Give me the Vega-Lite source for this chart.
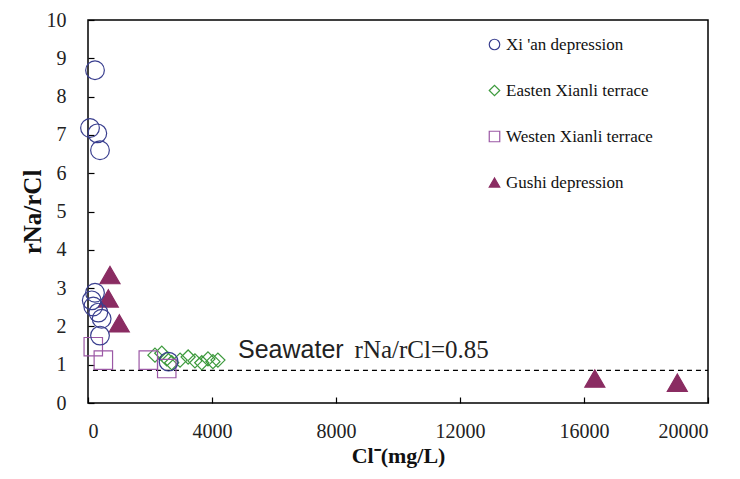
{
  "$schema": "https://vega.github.io/schema/vega-lite/v6.json",
  "width": 620,
  "height": 383,
  "autosize": {"type": "none"},
  "padding": {"left": 88, "top": 20, "right": 32, "bottom": 76},
  "background": "white",
  "config": {
    "view": {"stroke": "black", "strokeWidth": 1.5}
  },
  "datasets": {
    "points": [
      {"cl": 226, "ratio": 8.69, "group": "Xi 'an depression"},
      {"cl": 65, "ratio": 7.18, "group": "Xi 'an depression"},
      {"cl": 300, "ratio": 7.04, "group": "Xi 'an depression"},
      {"cl": 387, "ratio": 6.6, "group": "Xi 'an depression"},
      {"cl": 226, "ratio": 2.88, "group": "Xi 'an depression"},
      {"cl": 120, "ratio": 2.68, "group": "Xi 'an depression"},
      {"cl": 170, "ratio": 2.52, "group": "Xi 'an depression"},
      {"cl": 333, "ratio": 2.36, "group": "Xi 'an depression"},
      {"cl": 440, "ratio": 2.2, "group": "Xi 'an depression"},
      {"cl": 387, "ratio": 1.76, "group": "Xi 'an depression"},
      {"cl": 2600, "ratio": 1.08, "group": "Xi 'an depression"},
      {"cl": 2160, "ratio": 1.25, "group": "Easten Xianli terrace"},
      {"cl": 2380, "ratio": 1.3, "group": "Easten Xianli terrace"},
      {"cl": 2540, "ratio": 1.15, "group": "Easten Xianli terrace"},
      {"cl": 2700, "ratio": 1.05, "group": "Easten Xianli terrace"},
      {"cl": 2970, "ratio": 1.12, "group": "Easten Xianli terrace"},
      {"cl": 3230, "ratio": 1.2, "group": "Easten Xianli terrace"},
      {"cl": 3450, "ratio": 1.1, "group": "Easten Xianli terrace"},
      {"cl": 3670, "ratio": 1.05, "group": "Easten Xianli terrace"},
      {"cl": 3870, "ratio": 1.15, "group": "Easten Xianli terrace"},
      {"cl": 4030, "ratio": 1.08, "group": "Easten Xianli terrace"},
      {"cl": 4190, "ratio": 1.12, "group": "Easten Xianli terrace"},
      {"cl": 170, "ratio": 1.47, "group": "Westen Xianli terrace"},
      {"cl": 495, "ratio": 1.12, "group": "Westen Xianli terrace"},
      {"cl": 1945, "ratio": 1.12, "group": "Westen Xianli terrace"},
      {"cl": 2540, "ratio": 0.9, "group": "Westen Xianli terrace"},
      {"cl": 710, "ratio": 3.34, "group": "Gushi depression"},
      {"cl": 655, "ratio": 2.73, "group": "Gushi depression"},
      {"cl": 1010, "ratio": 2.08, "group": "Gushi depression"},
      {"cl": 16350, "ratio": 0.64, "group": "Gushi depression"},
      {"cl": 19010, "ratio": 0.53, "group": "Gushi depression"}
    ],
    "seawater": [{"cl": 160, "cl2": 20000, "ratio": 0.85}],
    "label1": [{"cl": 4840, "ratio": 1.17, "text": "Seawater"}],
    "label2": [{"cl": 8600, "ratio": 1.17, "text": "rNa/rCl=0.85"}]
  },
  "encoding": {
    "x": {"field": "cl", "type": "quantitative", "scale": {"domain": [0, 20000], "nice": false},
          "axis": {"values": [0, 4000, 8000, 12000, 16000, 20000], "format": "d", "grid": false, "domain": false, "offset": -6,
                   "ticks": true, "tickSize": 6, "tickWidth": 1.2, "tickColor": "black", "labelOverlap": false,
                   "labelFont": "Liberation Serif", "labelFontSize": 20, "labelColor": "#222", "labelPadding": 18,
                   "title": "Cl⁻(mg/L)", "titleFont": "Liberation Serif", "titleFontWeight": "bold", "titleColor": "#111", "titleFontSize": 22, "titlePadding": 4}},
    "y": {"field": "ratio", "type": "quantitative", "scale": {"domain": [0, 10], "nice": false},
          "axis": {"values": [0, 1, 2, 3, 4, 5, 6, 7, 8, 9, 10], "grid": false, "domain": false, "offset": -6,
                   "ticks": true, "tickSize": 6, "tickWidth": 1.2, "tickColor": "black", "labelOverlap": false,
                   "labelFont": "Liberation Serif", "labelFontSize": 20, "labelColor": "#222", "labelPadding": 22,
                   "title": "rNa/rCl", "titleFont": "Liberation Serif", "titleFontWeight": "bold", "titleColor": "#111", "titleFontSize": 25, "titlePadding": 1}}
  },
  "layer": [
    {
      "data": {"name": "seawater"},
      "mark": {"type": "rule", "color": "black", "strokeWidth": 1.3, "strokeDash": [5, 4]},
      "encoding": {"x2": {"field": "cl2"}}
    },
    {
      "data": {"name": "points"},
      "transform": [{"filter": "datum.group === 'Easten Xianli terrace'"}],
      "mark": {"type": "point", "strokeWidth": 1.2, "size": 200, "opacity": 1},
      "encoding": {
        "shape": {"field": "group", "type": "nominal",
          "scale": {"domain": ["Xi 'an depression", "Easten Xianli terrace", "Westen Xianli terrace", "Gushi depression"],
                    "range": ["circle", "diamond", "square", "triangle-up"]},
          "legend": {"title": null, "orient": "none", "legendX": 398, "legendY": 16,
                     "labelFont": "Liberation Serif", "labelFontSize": 17, "labelColor": "#111",
                     "symbolSize": 110, "symbolStrokeWidth": 1.2, "symbolOpacity": 1, "rowPadding": 28, "labelOffset": 3}},
        "stroke": {"field": "group", "type": "nominal",
          "scale": {"domain": ["Xi 'an depression", "Easten Xianli terrace", "Westen Xianli terrace", "Gushi depression"],
                    "range": ["#3a3f8f", "#3d9a3d", "#9b58a5", "#8a2c62"]}},
        "fill": {"field": "group", "type": "nominal",
          "scale": {"domain": ["Xi 'an depression", "Easten Xianli terrace", "Westen Xianli terrace", "Gushi depression"],
                    "range": ["rgba(255,255,255,0)", "rgba(255,255,255,0)", "rgba(255,255,255,0)", "#8a2c62"]}}
      }
    },
    {
      "data": {"name": "points"},
      "transform": [{"filter": "datum.group === 'Westen Xianli terrace'"}],
      "mark": {"type": "point", "strokeWidth": 1.2, "size": 340, "opacity": 1},
      "encoding": {
        "shape": {"field": "group", "type": "nominal"},
        "stroke": {"field": "group", "type": "nominal"},
        "fill": {"field": "group", "type": "nominal"}
      }
    },
    {
      "data": {"name": "points"},
      "transform": [{"filter": "datum.group === 'Gushi depression'"}],
      "mark": {"type": "point", "strokeWidth": 1.2, "size": 400, "opacity": 1},
      "encoding": {
        "shape": {"field": "group", "type": "nominal"},
        "stroke": {"field": "group", "type": "nominal"},
        "fill": {"field": "group", "type": "nominal"}
      }
    },
    {
      "data": {"name": "points"},
      "transform": [{"filter": "datum.group !== 'Easten Xianli terrace' && datum.group !== 'Westen Xianli terrace' && datum.group !== 'Gushi depression'"}],
      "mark": {"type": "point", "strokeWidth": 1.2, "size": 350, "opacity": 1},
      "encoding": {
        "shape": {"field": "group", "type": "nominal"},
        "stroke": {"field": "group", "type": "nominal"},
        "fill": {"field": "group", "type": "nominal"}
      }
    },
    {
      "data": {"name": "label1"},
      "mark": {"type": "text", "font": "Liberation Sans", "fontSize": 25, "align": "left", "baseline": "alphabetic", "color": "#222"},
      "encoding": {"text": {"field": "text"}}
    },
    {
      "data": {"name": "label2"},
      "mark": {"type": "text", "font": "Liberation Serif", "fontSize": 25, "align": "left", "baseline": "alphabetic", "color": "#222"},
      "encoding": {"text": {"field": "text"}}
    }
  ]
}
